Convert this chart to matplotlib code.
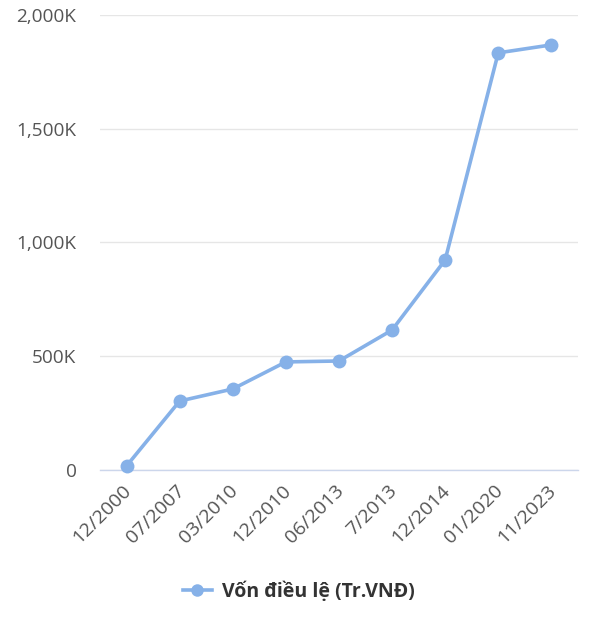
import matplotlib
matplotlib.use("Agg")
import matplotlib.pyplot as plt
import matplotlib.transforms as mtransforms
from matplotlib.ticker import FuncFormatter
from matplotlib.lines import Line2D

categories = ["12/2000", "07/2007", "03/2010", "12/2010", "06/2013", "7/2013", "12/2014", "01/2020", "11/2023"]
values = [18, 303, 356, 475, 479, 615, 923, 1833, 1868]  # thousands of Tr.VNĐ
series_name = "Vốn điều lệ (Tr.VNĐ)"

plt.rcParams['font.family'] = ['Open Sans', 'DejaVu Sans']
color = "#86b1e8"

fig = plt.figure(figsize=(5.97, 6.19), dpi=100)
ax = fig.add_axes([0.1675, 0.2407, 0.8005, 0.7353])

x = list(range(len(categories)))
ax.plot(x, values, color=color, lw=2.6, marker='o', ms=10, markeredgewidth=0,
        solid_capstyle='round', zorder=3, clip_on=False)

ax.set_xlim(-0.5, len(categories) - 0.5)
ax.set_ylim(0, 2000)
ax.set_yticks([0, 500, 1000, 1500, 2000])
ax.yaxis.set_major_formatter(FuncFormatter(lambda v, p: "0" if v == 0 else f"{int(v):,}K"))
ax.grid(axis='y', color='#e6e6e6', lw=1)
ax.set_axisbelow(True)
for s in ['top', 'right', 'left']:
    ax.spines[s].set_visible(False)
ax.spines['bottom'].set_color('#ccd6eb')
ax.spines['bottom'].set_linewidth(1)

ax.set_xticks(x)
ax.set_xticklabels(categories, rotation=45, ha='right', rotation_mode='anchor')
ax.tick_params(axis='x', length=0, pad=8, labelsize=14, labelcolor='#555555')
ax.tick_params(axis='y', length=0, pad=17, labelsize=13.7, labelcolor='#555555')
offset = mtransforms.ScaledTranslation(-3 / 72, 0, fig.dpi_scale_trans)
for lbl in ax.get_xticklabels():
    lbl.set_transform(lbl.get_transform() + offset)

handle = Line2D([], [], color=color, lw=2.6, marker='o', ms=9, markeredgewidth=0)
leg = fig.legend([handle], [series_name], loc='center', bbox_to_anchor=(0.5, 0.044), frameon=False,
                 prop={'weight': 'bold', 'size': 14}, handlelength=1.5, handletextpad=0.5)
for t in leg.get_texts():
    t.set_color('#333333')

fig.savefig("out.png", dpi=100, facecolor='white')
